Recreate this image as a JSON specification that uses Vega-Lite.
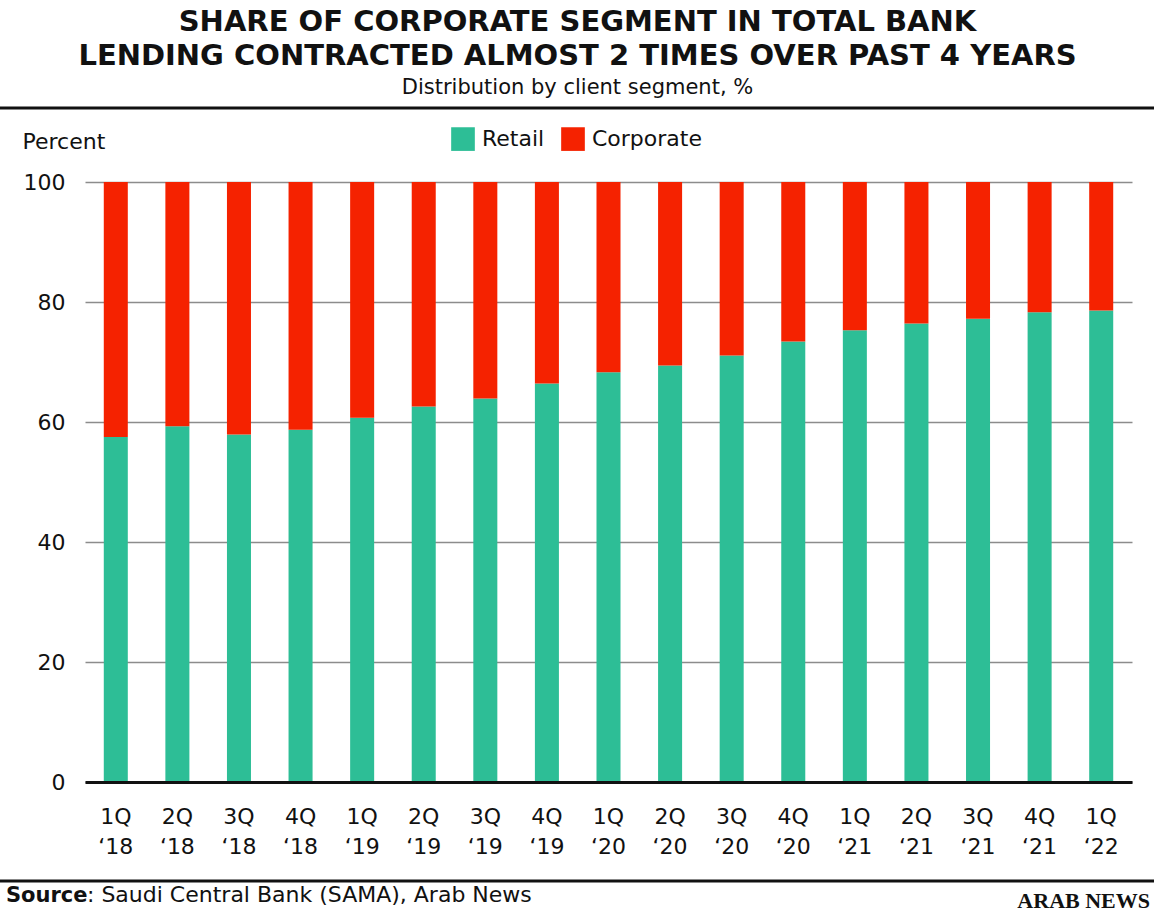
{
  "$schema": "https://vega.github.io/schema/vega-lite/v6.json",
  "width": 1047,
  "height": 600,
  "autosize": {"type": "none"},
  "padding": {"left": 85, "top": 182, "right": 22, "bottom": 131},
  "background": "white",
  "config": {
    "font": "DejaVu Sans",
    "view": {"stroke": null}
  },
  "title": {
    "text": ["SHARE OF CORPORATE SEGMENT IN TOTAL BANK", "LENDING CONTRACTED ALMOST 2 TIMES OVER PAST 4 YEARS"],
    "subtitle": "Distribution by client segment, %",
    "font": "DejaVu Sans",
    "fontSize": 29,
    "fontWeight": "bold",
    "lineHeight": 34,
    "color": "#111111",
    "subtitleFont": "DejaVu Sans",
    "subtitleFontSize": 21,
    "subtitleColor": "#111111",
    "subtitlePadding": 6,
    "anchor": "middle",
    "frame": "group",
    "dx": -31,
    "offset": 9
  },
  "layer": [
    {
      "data": {
        "values": [
          {"quarter": "1Q ‘18", "segment": "Retail", "value": 57.5},
          {"quarter": "1Q ‘18", "segment": "Corporate", "value": 42.5},
          {"quarter": "2Q ‘18", "segment": "Retail", "value": 59.3},
          {"quarter": "2Q ‘18", "segment": "Corporate", "value": 40.7},
          {"quarter": "3Q ‘18", "segment": "Retail", "value": 57.9},
          {"quarter": "3Q ‘18", "segment": "Corporate", "value": 42.1},
          {"quarter": "4Q ‘18", "segment": "Retail", "value": 58.7},
          {"quarter": "4Q ‘18", "segment": "Corporate", "value": 41.3},
          {"quarter": "1Q ‘19", "segment": "Retail", "value": 60.7},
          {"quarter": "1Q ‘19", "segment": "Corporate", "value": 39.3},
          {"quarter": "2Q ‘19", "segment": "Retail", "value": 62.6},
          {"quarter": "2Q ‘19", "segment": "Corporate", "value": 37.4},
          {"quarter": "3Q ‘19", "segment": "Retail", "value": 63.9},
          {"quarter": "3Q ‘19", "segment": "Corporate", "value": 36.1},
          {"quarter": "4Q ‘19", "segment": "Retail", "value": 66.4},
          {"quarter": "4Q ‘19", "segment": "Corporate", "value": 33.6},
          {"quarter": "1Q ‘20", "segment": "Retail", "value": 68.3},
          {"quarter": "1Q ‘20", "segment": "Corporate", "value": 31.7},
          {"quarter": "2Q ‘20", "segment": "Retail", "value": 69.4},
          {"quarter": "2Q ‘20", "segment": "Corporate", "value": 30.6},
          {"quarter": "3Q ‘20", "segment": "Retail", "value": 71.1},
          {"quarter": "3Q ‘20", "segment": "Corporate", "value": 28.9},
          {"quarter": "4Q ‘20", "segment": "Retail", "value": 73.4},
          {"quarter": "4Q ‘20", "segment": "Corporate", "value": 26.6},
          {"quarter": "1Q ‘21", "segment": "Retail", "value": 75.3},
          {"quarter": "1Q ‘21", "segment": "Corporate", "value": 24.7},
          {"quarter": "2Q ‘21", "segment": "Retail", "value": 76.4},
          {"quarter": "2Q ‘21", "segment": "Corporate", "value": 23.6},
          {"quarter": "3Q ‘21", "segment": "Retail", "value": 77.2},
          {"quarter": "3Q ‘21", "segment": "Corporate", "value": 22.8},
          {"quarter": "4Q ‘21", "segment": "Retail", "value": 78.3},
          {"quarter": "4Q ‘21", "segment": "Corporate", "value": 21.7},
          {"quarter": "1Q ‘22", "segment": "Retail", "value": 78.6},
          {"quarter": "1Q ‘22", "segment": "Corporate", "value": 21.4}
        ]
      },
      "mark": {"type": "bar"},
      "encoding": {
        "x": {
          "field": "quarter",
          "type": "nominal",
          "sort": null,
          "scale": {"paddingInner": 0.61, "paddingOuter": 0.305},
          "axis": {
            "title": null,
            "labelAngle": 0,
            "labelExpr": "split(datum.label, ' ')",
            "labelFontSize": 22,
            "labelLineHeight": 30,
            "labelPadding": 24,
            "labelColor": "#111111",
            "labelBaseline": "top",
            "ticks": false,
            "domainColor": "#111111",
            "domainWidth": 3,
            "zindex": 1
          }
        },
        "y": {
          "field": "value",
          "type": "quantitative",
          "stack": "zero",
          "scale": {"domain": [0, 100], "nice": false},
          "axis": {
            "values": [0, 20, 40, 60, 80, 100],
            "title": "Percent",
            "titleAngle": 0,
            "titleAlign": "left",
            "titleBaseline": "alphabetic",
            "titleX": -63,
            "titleY": -34,
            "titleFontSize": 22,
            "titleFontWeight": "normal",
            "titleColor": "#111111",
            "labelFontSize": 22,
            "labelPadding": 20,
            "labelColor": "#111111",
            "ticks": false,
            "domain": false,
            "gridColor": "#8c8c8c",
            "gridWidth": 1.5,
            "zindex": 0
          }
        },
        "color": {
          "field": "segment",
          "type": "nominal",
          "scale": {"domain": ["Retail", "Corporate"], "range": ["#2dbe96", "#f52200"]},
          "legend": {
            "title": null,
            "orient": "none",
            "legendX": 366,
            "legendY": -55,
            "direction": "horizontal",
            "symbolType": "square",
            "symbolSize": 560,
            "symbolStrokeWidth": 0,
            "symbolOpacity": 1,
            "labelFontSize": 22,
            "labelColor": "#111111",
            "labelOffset": 7,
            "columnPadding": 16
          }
        },
        "order": {"field": "segment", "sort": "descending"}
      }
    },
    {
      "data": {"values": [{"pos": "top"}]},
      "mark": {"type": "rule", "color": "#111111", "strokeWidth": 3},
      "encoding": {"x": {"value": -85}, "x2": {"value": 1069}, "y": {"value": -74}}
    },
    {
      "data": {"values": [{"pos": "bottom"}]},
      "mark": {"type": "rule", "color": "#111111", "strokeWidth": 3},
      "encoding": {"x": {"value": -85}, "x2": {"value": 1069}, "y": {"value": 699}}
    },
    {
      "data": {"values": [{"t": "Source"}]},
      "mark": {"type": "text", "align": "left", "baseline": "alphabetic", "fontSize": 21, "fontWeight": "bold", "color": "#111111"},
      "encoding": {"text": {"field": "t"}, "x": {"value": -79}, "y": {"value": 720}}
    },
    {
      "data": {"values": [{"t": ": Saudi Central Bank (SAMA), Arab News"}]},
      "mark": {"type": "text", "align": "left", "baseline": "alphabetic", "fontSize": 22, "color": "#111111"},
      "encoding": {"text": {"field": "t"}, "x": {"value": 2}, "y": {"value": 720}}
    },
    {
      "data": {"values": [{"t": "ARAB NEWS"}]},
      "mark": {"type": "text", "align": "right", "baseline": "alphabetic", "fontSize": 22, "fontWeight": "bold", "font": "Liberation Serif", "color": "#111111"},
      "encoding": {"text": {"field": "t"}, "x": {"value": 1065}, "y": {"value": 726}}
    }
  ]
}
